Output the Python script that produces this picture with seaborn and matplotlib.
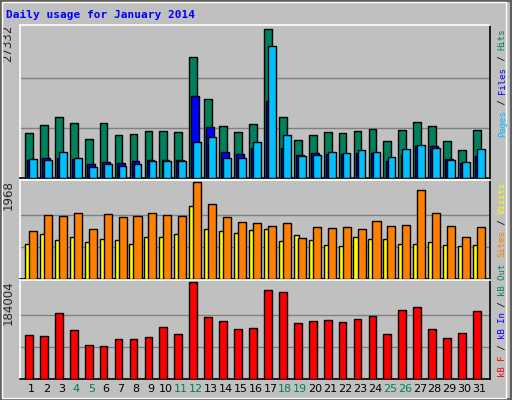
import numpy as np
import matplotlib
matplotlib.use("Agg")
import matplotlib.pyplot as plt
import seaborn as sns
from matplotlib.patches import Rectangle

days = list(range(1, 32))
weekend = [4, 5, 11, 12, 18, 19, 25, 26]

hits = [8180, 9670, 11160, 10040, 7070, 10040, 7810, 7990, 8550, 8550, 8370, 22120, 14500, 9480, 8370,
        9850, 27332, 11160, 6880, 7810, 8370, 8180, 8550, 8920, 6690, 8740, 10220, 9480, 6690, 5210, 8740]
files = [3350, 3720, 3720, 3530, 2600, 2980, 2790, 3160, 3350, 3350, 3350, 15060, 9300, 4830, 4460,
         5580, 14130, 5580, 4280, 4650, 4460, 4460, 4650, 4650, 3160, 4280, 5770, 5950, 3530, 2790, 4090]
pages = [3530, 3350, 4830, 3720, 2050, 2600, 2230, 2600, 3160, 3160, 3160, 6510, 7440, 3720, 3720,
         6510, 24170, 7810, 4090, 4280, 4830, 4650, 5210, 4830, 3900, 5390, 6130, 5580, 3350, 2980, 5390]
visits = [723, 916, 787, 852, 744, 809, 787, 723, 852, 852, 916, 1496, 1023, 980, 937,
          1002, 1023, 766, 895, 787, 701, 680, 852, 809, 809, 723, 723, 744, 701, 680, 701]
sites = [980, 1302, 1281, 1345, 1023, 1323, 1259, 1281, 1345, 1302, 1281, 1968, 1538, 1259, 1152,
         1131, 1088, 1131, 830, 1066, 1045, 1066, 1023, 1174, 1088, 1109, 1818, 1345, 1088, 852, 1066]
kbytes = [83580, 81560, 126040, 93690, 65380, 63360, 75490, 75490, 79540, 99760, 85600, 184004, 117960,
          109870, 95710, 97730, 169850, 165800, 105820, 109870, 111890, 107850, 113910, 119980,
          85600, 131780, 137840, 95710, 77510, 87620, 129760]
max_labels = ["27332", "1968", "184004"]

sns.set_style("white")
plt.rcParams["font.family"] = ["DejaVu Sans"]
gray = "#C0C0C0"
fig = plt.figure(figsize=(5.12, 4.0), dpi=100, facecolor=gray)
fig.patches.append(Rectangle((0, 0), 1, 1, transform=fig.transFigure, fill=False,
                             edgecolor="#606060", linewidth=3))
fig.patches.append(Rectangle((0.004, 0.006), 0.985, 0.99, transform=fig.transFigure, fill=False,
                             edgecolor="white", linewidth=1))

x = np.array(days, dtype=float)
boxes = [(0.555, 0.3825), (0.3025, 0.2475), (0.0525, 0.2475)]
axes = []
for b, h in boxes:
    ax = fig.add_axes([0.039, b, 0.918, h], facecolor=gray)
    ax.set_xlim(0.13, 31.6)
    for s in ax.spines.values():
        s.set_color("black")
        s.set_linewidth(1.2)
    ax.spines["top"].set_color("white")
    ax.spines["left"].set_color("white")
    ax.set_xticks([])
    ax.set_yticks([])
    axes.append(ax)

kw = dict(edgecolor="black", linewidth=1, zorder=3)
maxes = [max(hits), max(sites), max(kbytes)]
for ax, m, lab in zip(axes, maxes, max_labels):
    ax.set_ylim(0, m * 1.025)
    for g in (m / 3, 2 * m / 3):
        ax.axhline(g, color="#808080", linewidth=1, zorder=1)
    ax.text(-0.012, 1.0, lab, transform=ax.transAxes, rotation=90, ha="right", va="top", fontsize=8.5)

axes[0].bar(x - 0.27, hits, width=0.52, color="#00805C", **kw)
axes[0].bar(x - 0.13, files, width=0.52, color="#0000FF", **kw)
axes[0].bar(x, pages, width=0.52, color="#00C0FF", **kw)
axes[1].bar(x - 0.37, visits, width=0.34, color="#FFFF00", **kw)
axes[1].bar(x, sites, width=0.54, color="#FF8000", **kw)
axes[2].bar(x - 0.27, kbytes, width=0.52, color="#FF0000", **kw)

for d in days:
    axes[2].text(d - 0.1, -0.05, str(d), transform=axes[2].get_xaxis_transform(), ha="center", va="top",
                 fontsize=8, color="#00805C" if d in weekend else "black")

fig.text(0.012, 0.962, "Daily usage for January 2014", color="#0000FF", fontsize=8,
         fontweight="bold", family="DejaVu Sans Mono", ha="left", va="center")

# right side legends, read bottom to top
fs = 6.5
cw = 0.602 * fs * 100 / 72 / 400
def side(parts, y0):
    y = y0
    for txt, col in parts:
        fig.text(0.981, y, txt, rotation=90, color=col, fontsize=fs, family="DejaVu Sans Mono",
                 ha="center", va="bottom")
        y += len(txt) * cw

side([("Pages", "#00C0FF"), (" / ", "black"), ("Files", "#0000FF"), (" / ", "black"), ("Hits", "#00805C")], 0.6575)
side([("Sites", "#FF8000"), (" / ", "black"), ("Visits", "#FFFF00")], 0.357)
side([("kB F", "#FF0000"), (" / ", "black"), ("kB In", "#0000FF"), (" / ", "black"), ("kB Out", "#00805C")], 0.057)

fig.savefig("out.png", dpi=100, facecolor=gray)
